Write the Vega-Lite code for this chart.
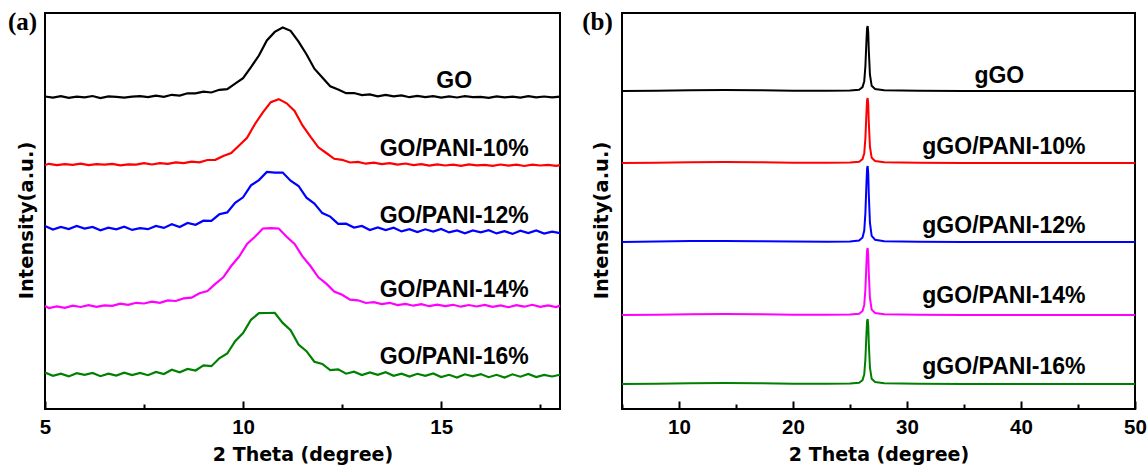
{
"$schema": "https://vega.github.io/schema/vega-lite/v6.json",
"autosize": {"type": "pad"},
"padding": {"left": 6, "top": 8, "right": 2, "bottom": 2},
"background": "white",
"bounds": "flush",
"spacing": 62,
"config": {"view": {"stroke": "black", "strokeWidth": 2}, "axis": {"grid": false, "domain": false}},
"datasets": {
"a": [
{"s":"GO","x":5.0,"y":312.5},{"s":"GO","x":5.2,"y":311.4},{"s":"GO","x":5.4,"y":312.9},{"s":"GO","x":5.6,"y":311.2},{"s":"GO","x":5.8,"y":312.3},{"s":"GO","x":6.0,"y":311.7},{"s":"GO","x":6.2,"y":313.0},{"s":"GO","x":6.4,"y":311.0},{"s":"GO","x":6.6,"y":312.6},{"s":"GO","x":6.8,"y":312.1},{"s":"GO","x":7.0,"y":311.3},{"s":"GO","x":7.2,"y":312.4},{"s":"GO","x":7.4,"y":312.9},{"s":"GO","x":7.6,"y":311.8},{"s":"GO","x":7.8,"y":313.3},{"s":"GO","x":8.0,"y":312.2},{"s":"GO","x":8.2,"y":314.2},{"s":"GO","x":8.4,"y":313.4},{"s":"GO","x":8.6,"y":315.7},{"s":"GO","x":8.8,"y":315.6},{"s":"GO","x":9.0,"y":317.4},{"s":"GO","x":9.2,"y":316.5},{"s":"GO","x":9.4,"y":319.2},{"s":"GO","x":9.6,"y":319.9},{"s":"GO","x":9.8,"y":325.3},{"s":"GO","x":10.0,"y":330.8},{"s":"GO","x":10.2,"y":341.8},{"s":"GO","x":10.4,"y":353.5},{"s":"GO","x":10.6,"y":368.6},{"s":"GO","x":10.8,"y":377.1},{"s":"GO","x":11.0,"y":381.5},{"s":"GO","x":11.2,"y":378.2},{"s":"GO","x":11.4,"y":367.4},{"s":"GO","x":11.6,"y":354.8},{"s":"GO","x":11.8,"y":340.3},{"s":"GO","x":12.0,"y":331.5},{"s":"GO","x":12.2,"y":322.8},{"s":"GO","x":12.4,"y":319.6},{"s":"GO","x":12.6,"y":315.8},{"s":"GO","x":12.8,"y":316.0},{"s":"GO","x":13.0,"y":313.9},{"s":"GO","x":13.2,"y":314.6},{"s":"GO","x":13.4,"y":312.7},{"s":"GO","x":13.6,"y":314.1},{"s":"GO","x":13.8,"y":312.6},{"s":"GO","x":14.0,"y":313.6},{"s":"GO","x":14.2,"y":311.8},{"s":"GO","x":14.4,"y":313.1},{"s":"GO","x":14.6,"y":311.9},{"s":"GO","x":14.8,"y":312.9},{"s":"GO","x":15.0,"y":311.3},{"s":"GO","x":15.2,"y":312.6},{"s":"GO","x":15.4,"y":311.5},{"s":"GO","x":15.6,"y":312.8},{"s":"GO","x":15.8,"y":311.9},{"s":"GO","x":16.0,"y":312.2},{"s":"GO","x":16.2,"y":311.1},{"s":"GO","x":16.4,"y":312.7},{"s":"GO","x":16.6,"y":311.6},{"s":"GO","x":16.8,"y":312.4},{"s":"GO","x":17.0,"y":311.3},{"s":"GO","x":17.2,"y":312.8},{"s":"GO","x":17.4,"y":311.7},{"s":"GO","x":17.6,"y":312.5},{"s":"GO","x":17.8,"y":311.6},{"s":"GO","x":18.0,"y":312.3},
{"s":"GO/PANI-10%","x":5.0,"y":244.0},{"s":"GO/PANI-10%","x":5.1,"y":245.2},{"s":"GO/PANI-10%","x":5.3,"y":243.9},{"s":"GO/PANI-10%","x":5.5,"y":244.8},{"s":"GO/PANI-10%","x":5.7,"y":244.1},{"s":"GO/PANI-10%","x":5.9,"y":245.3},{"s":"GO/PANI-10%","x":6.1,"y":243.8},{"s":"GO/PANI-10%","x":6.3,"y":244.9},{"s":"GO/PANI-10%","x":6.5,"y":244.4},{"s":"GO/PANI-10%","x":6.7,"y":245.1},{"s":"GO/PANI-10%","x":6.9,"y":243.7},{"s":"GO/PANI-10%","x":7.1,"y":244.6},{"s":"GO/PANI-10%","x":7.3,"y":244.3},{"s":"GO/PANI-10%","x":7.5,"y":245.8},{"s":"GO/PANI-10%","x":7.7,"y":244.5},{"s":"GO/PANI-10%","x":7.9,"y":245.9},{"s":"GO/PANI-10%","x":8.1,"y":245.2},{"s":"GO/PANI-10%","x":8.3,"y":246.6},{"s":"GO/PANI-10%","x":8.5,"y":245.8},{"s":"GO/PANI-10%","x":8.7,"y":247.4},{"s":"GO/PANI-10%","x":8.9,"y":246.7},{"s":"GO/PANI-10%","x":9.1,"y":249.0},{"s":"GO/PANI-10%","x":9.3,"y":249.2},{"s":"GO/PANI-10%","x":9.5,"y":253.0},{"s":"GO/PANI-10%","x":9.7,"y":255.9},{"s":"GO/PANI-10%","x":9.9,"y":263.5},{"s":"GO/PANI-10%","x":10.1,"y":271.2},{"s":"GO/PANI-10%","x":10.3,"y":285.0},{"s":"GO/PANI-10%","x":10.5,"y":296.7},{"s":"GO/PANI-10%","x":10.7,"y":306.9},{"s":"GO/PANI-10%","x":10.9,"y":309.9},{"s":"GO/PANI-10%","x":11.1,"y":305.7},{"s":"GO/PANI-10%","x":11.3,"y":298.0},{"s":"GO/PANI-10%","x":11.5,"y":283.5},{"s":"GO/PANI-10%","x":11.7,"y":272.3},{"s":"GO/PANI-10%","x":11.9,"y":261.7},{"s":"GO/PANI-10%","x":12.1,"y":256.0},{"s":"GO/PANI-10%","x":12.3,"y":250.2},{"s":"GO/PANI-10%","x":12.5,"y":249.2},{"s":"GO/PANI-10%","x":12.7,"y":246.5},{"s":"GO/PANI-10%","x":12.9,"y":247.1},{"s":"GO/PANI-10%","x":13.1,"y":245.3},{"s":"GO/PANI-10%","x":13.3,"y":246.3},{"s":"GO/PANI-10%","x":13.5,"y":244.8},{"s":"GO/PANI-10%","x":13.7,"y":245.9},{"s":"GO/PANI-10%","x":13.9,"y":244.3},{"s":"GO/PANI-10%","x":14.1,"y":245.5},{"s":"GO/PANI-10%","x":14.3,"y":243.8},{"s":"GO/PANI-10%","x":14.5,"y":244.8},{"s":"GO/PANI-10%","x":14.7,"y":243.3},{"s":"GO/PANI-10%","x":14.9,"y":244.6},{"s":"GO/PANI-10%","x":15.1,"y":243.5},{"s":"GO/PANI-10%","x":15.3,"y":244.4},{"s":"GO/PANI-10%","x":15.5,"y":243.2},{"s":"GO/PANI-10%","x":15.7,"y":244.7},{"s":"GO/PANI-10%","x":15.9,"y":243.6},{"s":"GO/PANI-10%","x":16.1,"y":244.2},{"s":"GO/PANI-10%","x":16.3,"y":243.1},{"s":"GO/PANI-10%","x":16.5,"y":244.5},{"s":"GO/PANI-10%","x":16.7,"y":243.4},{"s":"GO/PANI-10%","x":16.9,"y":244.3},{"s":"GO/PANI-10%","x":17.1,"y":243.0},{"s":"GO/PANI-10%","x":17.3,"y":244.4},{"s":"GO/PANI-10%","x":17.5,"y":243.5},{"s":"GO/PANI-10%","x":17.7,"y":244.1},{"s":"GO/PANI-10%","x":17.9,"y":243.2},{"s":"GO/PANI-10%","x":18.0,"y":243.9},
{"s":"GO/PANI-12%","x":5.0,"y":182.9},{"s":"GO/PANI-12%","x":5.2,"y":179.4},{"s":"GO/PANI-12%","x":5.4,"y":182.0},{"s":"GO/PANI-12%","x":5.6,"y":179.9},{"s":"GO/PANI-12%","x":5.8,"y":183.0},{"s":"GO/PANI-12%","x":6.0,"y":180.4},{"s":"GO/PANI-12%","x":6.2,"y":182.1},{"s":"GO/PANI-12%","x":6.4,"y":178.7},{"s":"GO/PANI-12%","x":6.6,"y":181.4},{"s":"GO/PANI-12%","x":6.8,"y":179.6},{"s":"GO/PANI-12%","x":7.0,"y":182.3},{"s":"GO/PANI-12%","x":7.2,"y":179.1},{"s":"GO/PANI-12%","x":7.4,"y":180.9},{"s":"GO/PANI-12%","x":7.6,"y":179.8},{"s":"GO/PANI-12%","x":7.8,"y":183.1},{"s":"GO/PANI-12%","x":8.0,"y":181.1},{"s":"GO/PANI-12%","x":8.2,"y":184.7},{"s":"GO/PANI-12%","x":8.4,"y":182.0},{"s":"GO/PANI-12%","x":8.6,"y":186.0},{"s":"GO/PANI-12%","x":8.8,"y":184.2},{"s":"GO/PANI-12%","x":9.0,"y":188.3},{"s":"GO/PANI-12%","x":9.2,"y":188.1},{"s":"GO/PANI-12%","x":9.4,"y":194.7},{"s":"GO/PANI-12%","x":9.6,"y":196.6},{"s":"GO/PANI-12%","x":9.8,"y":206.2},{"s":"GO/PANI-12%","x":10.0,"y":211.7},{"s":"GO/PANI-12%","x":10.2,"y":223.6},{"s":"GO/PANI-12%","x":10.4,"y":228.9},{"s":"GO/PANI-12%","x":10.6,"y":237.0},{"s":"GO/PANI-12%","x":10.8,"y":236.3},{"s":"GO/PANI-12%","x":11.0,"y":236.4},{"s":"GO/PANI-12%","x":11.2,"y":228.3},{"s":"GO/PANI-12%","x":11.4,"y":223.0},{"s":"GO/PANI-12%","x":11.6,"y":211.3},{"s":"GO/PANI-12%","x":11.8,"y":205.5},{"s":"GO/PANI-12%","x":12.0,"y":195.9},{"s":"GO/PANI-12%","x":12.2,"y":192.4},{"s":"GO/PANI-12%","x":12.4,"y":185.2},{"s":"GO/PANI-12%","x":12.6,"y":185.3},{"s":"GO/PANI-12%","x":12.8,"y":181.4},{"s":"GO/PANI-12%","x":13.0,"y":183.1},{"s":"GO/PANI-12%","x":13.2,"y":179.0},{"s":"GO/PANI-12%","x":13.4,"y":181.5},{"s":"GO/PANI-12%","x":13.6,"y":178.9},{"s":"GO/PANI-12%","x":13.8,"y":181.3},{"s":"GO/PANI-12%","x":14.0,"y":177.6},{"s":"GO/PANI-12%","x":14.2,"y":179.8},{"s":"GO/PANI-12%","x":14.4,"y":176.9},{"s":"GO/PANI-12%","x":14.6,"y":179.7},{"s":"GO/PANI-12%","x":14.8,"y":177.5},{"s":"GO/PANI-12%","x":15.0,"y":180.1},{"s":"GO/PANI-12%","x":15.2,"y":176.6},{"s":"GO/PANI-12%","x":15.4,"y":178.5},{"s":"GO/PANI-12%","x":15.6,"y":175.6},{"s":"GO/PANI-12%","x":15.8,"y":178.6},{"s":"GO/PANI-12%","x":16.0,"y":176.6},{"s":"GO/PANI-12%","x":16.2,"y":178.8},{"s":"GO/PANI-12%","x":16.4,"y":175.6},{"s":"GO/PANI-12%","x":16.6,"y":177.9},{"s":"GO/PANI-12%","x":16.8,"y":175.1},{"s":"GO/PANI-12%","x":17.0,"y":178.3},{"s":"GO/PANI-12%","x":17.2,"y":175.9},{"s":"GO/PANI-12%","x":17.4,"y":178.5},{"s":"GO/PANI-12%","x":17.6,"y":175.4},{"s":"GO/PANI-12%","x":17.8,"y":177.4},{"s":"GO/PANI-12%","x":18.0,"y":175.9},
{"s":"GO/PANI-14%","x":5.0,"y":102.9},{"s":"GO/PANI-14%","x":5.1,"y":101.0},{"s":"GO/PANI-14%","x":5.3,"y":102.6},{"s":"GO/PANI-14%","x":5.5,"y":101.1},{"s":"GO/PANI-14%","x":5.7,"y":103.3},{"s":"GO/PANI-14%","x":5.9,"y":102.0},{"s":"GO/PANI-14%","x":6.1,"y":103.9},{"s":"GO/PANI-14%","x":6.3,"y":102.1},{"s":"GO/PANI-14%","x":6.5,"y":103.6},{"s":"GO/PANI-14%","x":6.7,"y":103.1},{"s":"GO/PANI-14%","x":6.9,"y":105.3},{"s":"GO/PANI-14%","x":7.1,"y":104.2},{"s":"GO/PANI-14%","x":7.3,"y":106.2},{"s":"GO/PANI-14%","x":7.5,"y":105.5},{"s":"GO/PANI-14%","x":7.7,"y":107.4},{"s":"GO/PANI-14%","x":7.9,"y":106.2},{"s":"GO/PANI-14%","x":8.1,"y":108.6},{"s":"GO/PANI-14%","x":8.3,"y":108.0},{"s":"GO/PANI-14%","x":8.5,"y":110.6},{"s":"GO/PANI-14%","x":8.7,"y":111.4},{"s":"GO/PANI-14%","x":8.9,"y":115.8},{"s":"GO/PANI-14%","x":9.1,"y":118.0},{"s":"GO/PANI-14%","x":9.3,"y":125.1},{"s":"GO/PANI-14%","x":9.5,"y":131.7},{"s":"GO/PANI-14%","x":9.7,"y":143.0},{"s":"GO/PANI-14%","x":9.9,"y":152.5},{"s":"GO/PANI-14%","x":10.1,"y":165.1},{"s":"GO/PANI-14%","x":10.3,"y":172.3},{"s":"GO/PANI-14%","x":10.5,"y":180.5},{"s":"GO/PANI-14%","x":10.7,"y":180.8},{"s":"GO/PANI-14%","x":10.9,"y":180.5},{"s":"GO/PANI-14%","x":11.1,"y":172.3},{"s":"GO/PANI-14%","x":11.3,"y":165.1},{"s":"GO/PANI-14%","x":11.5,"y":152.6},{"s":"GO/PANI-14%","x":11.7,"y":143.0},{"s":"GO/PANI-14%","x":11.9,"y":131.7},{"s":"GO/PANI-14%","x":12.1,"y":125.4},{"s":"GO/PANI-14%","x":12.3,"y":117.5},{"s":"GO/PANI-14%","x":12.5,"y":114.2},{"s":"GO/PANI-14%","x":12.7,"y":109.4},{"s":"GO/PANI-14%","x":12.9,"y":108.7},{"s":"GO/PANI-14%","x":13.1,"y":106.0},{"s":"GO/PANI-14%","x":13.3,"y":106.9},{"s":"GO/PANI-14%","x":13.5,"y":104.9},{"s":"GO/PANI-14%","x":13.7,"y":106.2},{"s":"GO/PANI-14%","x":13.9,"y":103.9},{"s":"GO/PANI-14%","x":14.1,"y":105.1},{"s":"GO/PANI-14%","x":14.3,"y":103.3},{"s":"GO/PANI-14%","x":14.5,"y":104.9},{"s":"GO/PANI-14%","x":14.7,"y":102.8},{"s":"GO/PANI-14%","x":14.9,"y":104.3},{"s":"GO/PANI-14%","x":15.1,"y":102.8},{"s":"GO/PANI-14%","x":15.3,"y":104.2},{"s":"GO/PANI-14%","x":15.5,"y":102.3},{"s":"GO/PANI-14%","x":15.7,"y":104.0},{"s":"GO/PANI-14%","x":15.9,"y":102.5},{"s":"GO/PANI-14%","x":16.1,"y":104.1},{"s":"GO/PANI-14%","x":16.3,"y":102.1},{"s":"GO/PANI-14%","x":16.5,"y":103.6},{"s":"GO/PANI-14%","x":16.7,"y":101.8},{"s":"GO/PANI-14%","x":16.9,"y":103.8},{"s":"GO/PANI-14%","x":17.1,"y":102.3},{"s":"GO/PANI-14%","x":17.3,"y":104.2},{"s":"GO/PANI-14%","x":17.5,"y":102.2},{"s":"GO/PANI-14%","x":17.7,"y":103.6},{"s":"GO/PANI-14%","x":17.9,"y":102.0},{"s":"GO/PANI-14%","x":18.0,"y":103.4},
{"s":"GO/PANI-16%","x":5.0,"y":36.5},{"s":"GO/PANI-16%","x":5.2,"y":33.2},{"s":"GO/PANI-16%","x":5.4,"y":35.3},{"s":"GO/PANI-16%","x":5.6,"y":32.6},{"s":"GO/PANI-16%","x":5.8,"y":35.8},{"s":"GO/PANI-16%","x":6.0,"y":34.2},{"s":"GO/PANI-16%","x":6.2,"y":36.1},{"s":"GO/PANI-16%","x":6.4,"y":32.8},{"s":"GO/PANI-16%","x":6.6,"y":35.4},{"s":"GO/PANI-16%","x":6.8,"y":33.4},{"s":"GO/PANI-16%","x":7.0,"y":36.4},{"s":"GO/PANI-16%","x":7.2,"y":33.9},{"s":"GO/PANI-16%","x":7.4,"y":36.0},{"s":"GO/PANI-16%","x":7.6,"y":33.8},{"s":"GO/PANI-16%","x":7.8,"y":37.1},{"s":"GO/PANI-16%","x":8.0,"y":35.0},{"s":"GO/PANI-16%","x":8.2,"y":39.3},{"s":"GO/PANI-16%","x":8.4,"y":36.7},{"s":"GO/PANI-16%","x":8.6,"y":40.0},{"s":"GO/PANI-16%","x":8.8,"y":38.5},{"s":"GO/PANI-16%","x":9.0,"y":43.7},{"s":"GO/PANI-16%","x":9.2,"y":42.8},{"s":"GO/PANI-16%","x":9.4,"y":50.7},{"s":"GO/PANI-16%","x":9.6,"y":55.5},{"s":"GO/PANI-16%","x":9.8,"y":67.8},{"s":"GO/PANI-16%","x":10.0,"y":75.9},{"s":"GO/PANI-16%","x":10.2,"y":89.2},{"s":"GO/PANI-16%","x":10.4,"y":95.8},{"s":"GO/PANI-16%","x":10.6,"y":96.0},{"s":"GO/PANI-16%","x":10.8,"y":96.2},{"s":"GO/PANI-16%","x":11.0,"y":86.1},{"s":"GO/PANI-16%","x":11.2,"y":78.8},{"s":"GO/PANI-16%","x":11.4,"y":64.5},{"s":"GO/PANI-16%","x":11.6,"y":57.8},{"s":"GO/PANI-16%","x":11.8,"y":47.3},{"s":"GO/PANI-16%","x":12.0,"y":45.0},{"s":"GO/PANI-16%","x":12.2,"y":38.9},{"s":"GO/PANI-16%","x":12.4,"y":39.7},{"s":"GO/PANI-16%","x":12.6,"y":35.3},{"s":"GO/PANI-16%","x":12.8,"y":37.3},{"s":"GO/PANI-16%","x":13.0,"y":34.0},{"s":"GO/PANI-16%","x":13.2,"y":36.6},{"s":"GO/PANI-16%","x":13.4,"y":34.1},{"s":"GO/PANI-16%","x":13.6,"y":36.7},{"s":"GO/PANI-16%","x":13.8,"y":33.2},{"s":"GO/PANI-16%","x":14.0,"y":35.4},{"s":"GO/PANI-16%","x":14.2,"y":32.4},{"s":"GO/PANI-16%","x":14.4,"y":35.2},{"s":"GO/PANI-16%","x":14.6,"y":33.2},{"s":"GO/PANI-16%","x":14.8,"y":35.6},{"s":"GO/PANI-16%","x":15.0,"y":31.9},{"s":"GO/PANI-16%","x":15.2,"y":34.2},{"s":"GO/PANI-16%","x":15.4,"y":31.4},{"s":"GO/PANI-16%","x":15.6,"y":34.7},{"s":"GO/PANI-16%","x":15.8,"y":32.7},{"s":"GO/PANI-16%","x":16.0,"y":34.9},{"s":"GO/PANI-16%","x":16.2,"y":31.8},{"s":"GO/PANI-16%","x":16.4,"y":34.2},{"s":"GO/PANI-16%","x":16.6,"y":31.4},{"s":"GO/PANI-16%","x":16.8,"y":34.7},{"s":"GO/PANI-16%","x":17.0,"y":32.3},{"s":"GO/PANI-16%","x":17.2,"y":35.0},{"s":"GO/PANI-16%","x":17.4,"y":31.9},{"s":"GO/PANI-16%","x":17.6,"y":34.0},{"s":"GO/PANI-16%","x":17.8,"y":32.5},{"s":"GO/PANI-16%","x":18.0,"y":34.3}
],
"b": [
{"s":"gGO","x":5,"y":318},{"s":"gGO","x":8,"y":318.3},{"s":"gGO","x":11,"y":318.8},{"s":"gGO","x":14,"y":319.0},{"s":"gGO","x":17,"y":318.7},{"s":"gGO","x":20,"y":318.3},{"s":"gGO","x":23,"y":318.3},{"s":"gGO","x":25,"y":318.5},{"s":"gGO","x":25.8,"y":319.3},{"s":"gGO","x":26.1,"y":321.9},{"s":"gGO","x":26.25,"y":327.8},{"s":"gGO","x":26.35,"y":342.7},{"s":"gGO","x":26.45,"y":370},{"s":"gGO","x":26.5,"y":381},{"s":"gGO","x":26.55,"y":383},{"s":"gGO","x":26.6,"y":376.5},{"s":"gGO","x":26.65,"y":358.3},{"s":"gGO","x":26.75,"y":334.3},{"s":"gGO","x":26.9,"y":323.2},{"s":"gGO","x":27.2,"y":320.0},{"s":"gGO","x":28,"y":318.7},{"s":"gGO","x":31,"y":318.2},{"s":"gGO","x":35,"y":318},{"s":"gGO","x":40,"y":318},{"s":"gGO","x":45,"y":318.1},{"s":"gGO","x":50,"y":318},
{"s":"gGO/PANI-10%","x":5,"y":246},{"s":"gGO/PANI-10%","x":8,"y":246.3},{"s":"gGO/PANI-10%","x":11,"y":246.8},{"s":"gGO/PANI-10%","x":14,"y":247.0},{"s":"gGO/PANI-10%","x":17,"y":246.7},{"s":"gGO/PANI-10%","x":20,"y":246.3},{"s":"gGO/PANI-10%","x":23,"y":246.3},{"s":"gGO/PANI-10%","x":25,"y":246.5},{"s":"gGO/PANI-10%","x":25.8,"y":247.3},{"s":"gGO/PANI-10%","x":26.1,"y":249.9},{"s":"gGO/PANI-10%","x":26.25,"y":255.8},{"s":"gGO/PANI-10%","x":26.35,"y":270.7},{"s":"gGO/PANI-10%","x":26.45,"y":298},{"s":"gGO/PANI-10%","x":26.5,"y":309},{"s":"gGO/PANI-10%","x":26.55,"y":311},{"s":"gGO/PANI-10%","x":26.6,"y":304.5},{"s":"gGO/PANI-10%","x":26.65,"y":286.3},{"s":"gGO/PANI-10%","x":26.75,"y":262.3},{"s":"gGO/PANI-10%","x":26.9,"y":251.2},{"s":"gGO/PANI-10%","x":27.2,"y":248.0},{"s":"gGO/PANI-10%","x":28,"y":246.7},{"s":"gGO/PANI-10%","x":31,"y":246.2},{"s":"gGO/PANI-10%","x":35,"y":246},{"s":"gGO/PANI-10%","x":40,"y":246},{"s":"gGO/PANI-10%","x":45,"y":246.1},{"s":"gGO/PANI-10%","x":50,"y":246},
{"s":"gGO/PANI-12%","x":5,"y":167},{"s":"gGO/PANI-12%","x":8,"y":167.4},{"s":"gGO/PANI-12%","x":11,"y":167.9},{"s":"gGO/PANI-12%","x":14,"y":168.1},{"s":"gGO/PANI-12%","x":17,"y":167.8},{"s":"gGO/PANI-12%","x":20,"y":167.4},{"s":"gGO/PANI-12%","x":23,"y":167.3},{"s":"gGO/PANI-12%","x":25,"y":167.6},{"s":"gGO/PANI-12%","x":25.8,"y":168.5},{"s":"gGO/PANI-12%","x":26.1,"y":171.6},{"s":"gGO/PANI-12%","x":26.25,"y":178.4},{"s":"gGO/PANI-12%","x":26.35,"y":195.9},{"s":"gGO/PANI-12%","x":26.45,"y":227.8},{"s":"gGO/PANI-12%","x":26.5,"y":240.7},{"s":"gGO/PANI-12%","x":26.55,"y":243},{"s":"gGO/PANI-12%","x":26.6,"y":235.4},{"s":"gGO/PANI-12%","x":26.65,"y":214.1},{"s":"gGO/PANI-12%","x":26.75,"y":186},{"s":"gGO/PANI-12%","x":26.9,"y":173.1},{"s":"gGO/PANI-12%","x":27.2,"y":169.3},{"s":"gGO/PANI-12%","x":28,"y":167.8},{"s":"gGO/PANI-12%","x":31,"y":167.2},{"s":"gGO/PANI-12%","x":35,"y":167},{"s":"gGO/PANI-12%","x":40,"y":167},{"s":"gGO/PANI-12%","x":45,"y":167.1},{"s":"gGO/PANI-12%","x":50,"y":167},
{"s":"gGO/PANI-14%","x":5,"y":94},{"s":"gGO/PANI-14%","x":8,"y":94.3},{"s":"gGO/PANI-14%","x":11,"y":94.8},{"s":"gGO/PANI-14%","x":14,"y":95.0},{"s":"gGO/PANI-14%","x":17,"y":94.7},{"s":"gGO/PANI-14%","x":20,"y":94.3},{"s":"gGO/PANI-14%","x":23,"y":94.3},{"s":"gGO/PANI-14%","x":25,"y":94.5},{"s":"gGO/PANI-14%","x":25.8,"y":95.3},{"s":"gGO/PANI-14%","x":26.1,"y":98.0},{"s":"gGO/PANI-14%","x":26.25,"y":104.1},{"s":"gGO/PANI-14%","x":26.35,"y":119.5},{"s":"gGO/PANI-14%","x":26.45,"y":147.6},{"s":"gGO/PANI-14%","x":26.5,"y":159},{"s":"gGO/PANI-14%","x":26.55,"y":161},{"s":"gGO/PANI-14%","x":26.6,"y":154.3},{"s":"gGO/PANI-14%","x":26.65,"y":135.5},{"s":"gGO/PANI-14%","x":26.75,"y":110.8},{"s":"gGO/PANI-14%","x":26.9,"y":99.4},{"s":"gGO/PANI-14%","x":27.2,"y":96.0},{"s":"gGO/PANI-14%","x":28,"y":94.7},{"s":"gGO/PANI-14%","x":31,"y":94.2},{"s":"gGO/PANI-14%","x":35,"y":94},{"s":"gGO/PANI-14%","x":40,"y":94},{"s":"gGO/PANI-14%","x":45,"y":94.1},{"s":"gGO/PANI-14%","x":50,"y":94},
{"s":"gGO/PANI-16%","x":5,"y":25},{"s":"gGO/PANI-16%","x":8,"y":25.3},{"s":"gGO/PANI-16%","x":11,"y":25.8},{"s":"gGO/PANI-16%","x":14,"y":26.0},{"s":"gGO/PANI-16%","x":17,"y":25.7},{"s":"gGO/PANI-16%","x":20,"y":25.3},{"s":"gGO/PANI-16%","x":23,"y":25.3},{"s":"gGO/PANI-16%","x":25,"y":25.5},{"s":"gGO/PANI-16%","x":25.8,"y":26.3},{"s":"gGO/PANI-16%","x":26.1,"y":28.9},{"s":"gGO/PANI-16%","x":26.25,"y":34.8},{"s":"gGO/PANI-16%","x":26.35,"y":49.7},{"s":"gGO/PANI-16%","x":26.45,"y":77},{"s":"gGO/PANI-16%","x":26.5,"y":88},{"s":"gGO/PANI-16%","x":26.55,"y":90},{"s":"gGO/PANI-16%","x":26.6,"y":83.5},{"s":"gGO/PANI-16%","x":26.65,"y":65.3},{"s":"gGO/PANI-16%","x":26.75,"y":41.3},{"s":"gGO/PANI-16%","x":26.9,"y":30.2},{"s":"gGO/PANI-16%","x":27.2,"y":27.0},{"s":"gGO/PANI-16%","x":28,"y":25.7},{"s":"gGO/PANI-16%","x":31,"y":25.2},{"s":"gGO/PANI-16%","x":35,"y":25},{"s":"gGO/PANI-16%","x":40,"y":25},{"s":"gGO/PANI-16%","x":45,"y":25.1},{"s":"gGO/PANI-16%","x":50,"y":25}
],
"la": [{"x":15.33,"y":321.3,"t":"GO"},{"x":15.33,"y":253,"t":"GO/PANI-10%"},{"x":15.33,"y":186.3,"t":"GO/PANI-12%"},{"x":15.33,"y":112,"t":"GO/PANI-14%"},{"x":15.33,"y":45.3,"t":"GO/PANI-16%"}],
"lb": [{"x":38.1,"y":326.3,"t":"gGO"},{"x":38.5,"y":255.3,"t":"gGO/PANI-10%"},{"x":38.5,"y":176.3,"t":"gGO/PANI-12%"},{"x":38.5,"y":106.3,"t":"gGO/PANI-14%"},{"x":38.5,"y":34.7,"t":"gGO/PANI-16%"}],
"ta": [{"x":4.432,"y":379.5,"t":"(a)"}],
"tb": [{"x":2.85,"y":379.5,"t":"(b)"}]
},
"hconcat": [
{
"width": 515, "height": 396,
"layer": [
{"data": {"name": "a"}, "mark": {"type": "line", "strokeWidth": 2.2},
 "encoding": {
  "x": {"field": "x", "type": "quantitative", "scale": {"domain": [5, 18], "nice": false, "zero": false},
   "axis": {"values": [5, 7.5, 10, 12.5, 15, 17.5], "labelExpr": "datum.value % 5 === 0 ? datum.label : ''",
    "tickSize": {"condition": {"test": "datum.value % 5 === 0", "value": -8}, "value": -5},
    "tickWidth": 2, "tickColor": "black", "labelFont": "Liberation Sans", "labelFontWeight": "bold", "labelFontSize": 20.5, "labelColor": "black",
    "labelPadding": 16, "labelFlush": false, "labelOverlap": false, "labelBound": false,
    "title": "2 Theta (degree)", "titleFont": "DejaVu Sans", "titleFontSize": 19, "titleFontWeight": "bold", "titleColor": "black",
    "titleY": 51, "titleBaseline": "alphabetic"}},
  "y": {"field": "y", "type": "quantitative", "scale": {"domain": [0, 396], "nice": false, "zero": false},
   "axis": {"ticks": false, "labels": false, "title": "Intensity(a.u.)", "titleFont": "DejaVu Sans", "titleFontSize": 19.5, "titleFontWeight": "bold", "titleColor": "black",
    "titleX": -19, "titleY": 207, "titleAngle": -90, "titleAlign": "center", "titleBaseline": "middle"}},
  "color": {"field": "s", "type": "nominal", "legend": null,
   "scale": {"domain": ["GO", "GO/PANI-10%", "GO/PANI-12%", "GO/PANI-14%", "GO/PANI-16%"], "range": ["#000000", "#ff0000", "#0000ff", "#ff00ff", "#008000"]}}
 }},
{"data": {"name": "la"}, "mark": {"type": "text", "font": "Liberation Sans", "fontWeight": "bold", "fontSize": 23, "align": "center", "baseline": "alphabetic", "color": "black"},
 "encoding": {"x": {"field": "x", "type": "quantitative"}, "y": {"field": "y", "type": "quantitative"}, "text": {"field": "t"}}},
{"data": {"name": "ta"}, "mark": {"type": "text", "font": "Liberation Serif", "fontWeight": "bold", "fontSize": 25, "align": "center", "baseline": "alphabetic", "color": "black"},
 "encoding": {"x": {"field": "x", "type": "quantitative"}, "y": {"field": "y", "type": "quantitative"}, "text": {"field": "t"}}}
]
},
{
"width": 513, "height": 396,
"layer": [
{"data": {"name": "b"}, "mark": {"type": "line", "strokeWidth": 2},
 "encoding": {
  "x": {"field": "x", "type": "quantitative", "scale": {"domain": [5, 50], "nice": false, "zero": false},
   "axis": {"values": [5, 10, 15, 20, 25, 30, 35, 40, 45, 50], "labelExpr": "datum.value % 10 === 0 ? datum.label : ''",
    "tickSize": {"condition": {"test": "datum.value % 10 === 0", "value": -8}, "value": -5},
    "tickWidth": 2, "tickColor": "black", "labelFont": "Liberation Sans", "labelFontWeight": "bold", "labelFontSize": 20.5, "labelColor": "black",
    "labelPadding": 16, "labelFlush": false, "labelOverlap": false, "labelBound": false,
    "title": "2 Theta (degree)", "titleFont": "DejaVu Sans", "titleFontSize": 19, "titleFontWeight": "bold", "titleColor": "black",
    "titleY": 51, "titleBaseline": "alphabetic"}},
  "y": {"field": "y", "type": "quantitative", "scale": {"domain": [0, 396], "nice": false, "zero": false},
   "axis": {"ticks": false, "labels": false, "title": "Intensity(a.u.)", "titleFont": "DejaVu Sans", "titleFontSize": 19.5, "titleFontWeight": "bold", "titleColor": "black",
    "titleX": -21, "titleY": 207, "titleAngle": -90, "titleAlign": "center", "titleBaseline": "middle"}},
  "color": {"field": "s", "type": "nominal", "legend": null,
   "scale": {"domain": ["gGO", "gGO/PANI-10%", "gGO/PANI-12%", "gGO/PANI-14%", "gGO/PANI-16%"], "range": ["#000000", "#ff0000", "#0000ff", "#ff00ff", "#008000"]}}
 }},
{"data": {"name": "lb"}, "mark": {"type": "text", "font": "Liberation Sans", "fontWeight": "bold", "fontSize": 23, "align": "center", "baseline": "alphabetic", "color": "black"},
 "encoding": {"x": {"field": "x", "type": "quantitative"}, "y": {"field": "y", "type": "quantitative"}, "text": {"field": "t"}}},
{"data": {"name": "tb"}, "mark": {"type": "text", "font": "Liberation Serif", "fontWeight": "bold", "fontSize": 25, "align": "center", "baseline": "alphabetic", "color": "black"},
 "encoding": {"x": {"field": "x", "type": "quantitative"}, "y": {"field": "y", "type": "quantitative"}, "text": {"field": "t"}}}
]
}
],
"resolve": {"scale": {"color": "independent"}}
}
